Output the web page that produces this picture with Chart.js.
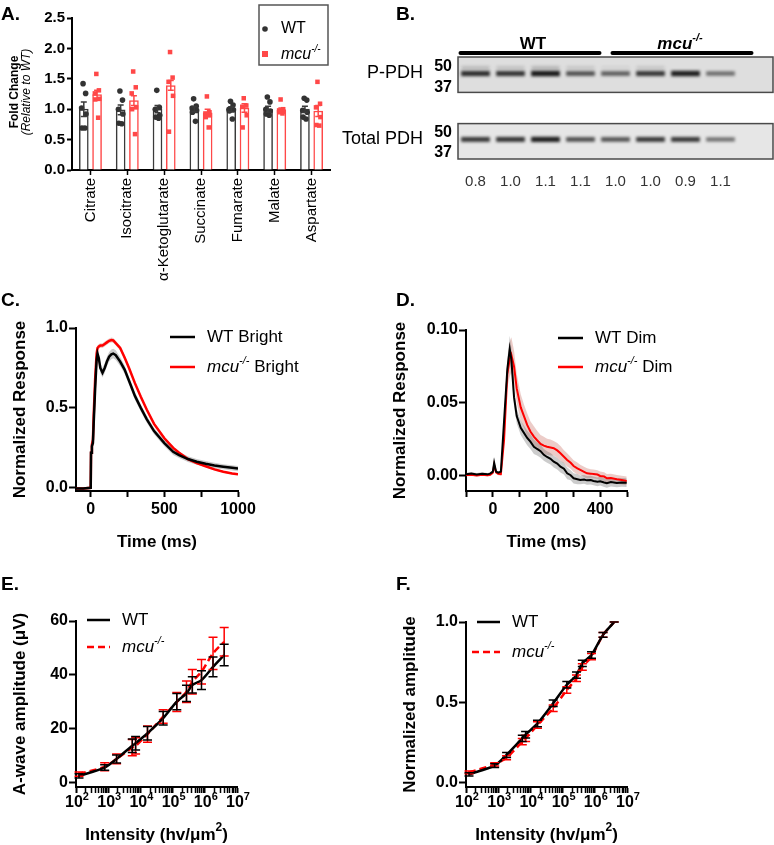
<!DOCTYPE html>
<html>
<head>
<meta charset="utf-8">
<title>mcu metabolites, PDH and ERG</title>
<script src="https://cdn.jsdelivr.net/npm/chart.js@4.4.1/dist/chart.umd.min.js"></script>
<style>
  body { margin: 0; background: #fff; }
  #page { position: relative; width: 774px; height: 845px; overflow: hidden; font-family: "Liberation Sans", Arial, sans-serif; }
  canvas { position: absolute; }
  .tag { position: absolute; font-weight: bold; font-size: 19px; line-height: 19px; }
</style>
</head>
<body>
<div id="page">
  <canvas id="chartA" width="345" height="290" style="left:0;top:0"></canvas>
  <canvas id="blotTop" width="434" height="108" style="left:340px;top:0"></canvas>
  <canvas id="blotBottom" width="434" height="92" style="left:340px;top:108px"></canvas>
  <canvas id="chartC" width="390" height="280" style="left:0;top:280px"></canvas>
  <canvas id="chartD" width="384" height="280" style="left:390px;top:280px"></canvas>
  <canvas id="chartE" width="390" height="285" style="left:0;top:560px"></canvas>
  <canvas id="chartF" width="384" height="285" style="left:390px;top:560px"></canvas>
  <div class="tag" style="left:1px;top:4px">A.</div>
  <div class="tag" style="left:396px;top:4px">B.</div>
  <div class="tag" style="left:1px;top:290px">C.</div>
  <div class="tag" style="left:396px;top:290px">D.</div>
  <div class="tag" style="left:1px;top:574px">E.</div>
  <div class="tag" style="left:396px;top:574px">F.</div>
</div>
<script>
'use strict';
const FONT = '"Liberation Sans", Arial, sans-serif';
Chart.defaults.font.family = FONT;
Chart.defaults.color = '#000';

// ---- A: metabolites ----
let metabolites = ['Citrate', 'Isocitrate', 'α-Ketoglutarate', 'Succinate', 'Fumarate', 'Malate', 'Aspartate'];
let wtMean = [1.00, 0.99, 1.00, 1.00, 1.00, 1.00, 1.00];
let wtSem = [0.12, 0.08, 0.06, 0.04, 0.04, 0.05, 0.05];
let mcuMean = [1.24, 1.14, 1.39, 0.94, 1.02, 0.98, 0.97];
let mcuSem = [0.07, 0.08, 0.08, 0.06, 0.07, 0.04, 0.09];
let wtPoints = [
  [1.42, 1.26, 1.02, 0.92, 0.69, 0.69],
  [1.30, 1.15, 1.00, 0.92, 0.77, 0.76],
  [1.31, 1.03, 1.00, 0.90, 0.87, 0.85],
  [1.17, 1.05, 1.02, 0.98, 0.95, 0.80],
  [1.13, 1.07, 1.00, 0.99, 0.97, 0.84],
  [1.20, 1.12, 1.00, 0.97, 0.92, 0.90],
  [1.18, 1.15, 0.98, 0.95, 0.87, 0.84]
];
let mcuPoints = [
  [1.58, 1.31, 1.26, 1.17, 1.16, 0.86],
  [1.62, 1.36, 1.26, 1.03, 1.00, 0.59],
  [1.94, 1.52, 1.45, 1.22, 0.63],
  [1.21, 0.95, 0.93, 0.90, 0.87, 0.70],
  [1.18, 1.06, 1.04, 0.90, 0.70],
  [1.16, 1.00, 0.98, 0.96, 0.95, 0.93],
  [1.45, 1.09, 1.03, 0.87, 0.74, 0.73]
];
let foldTicks = [0, 0.5, 1.0, 1.5, 2.0, 2.5];

// ---- B: western blot ----
let lanes = ['WT 1', 'WT 2', 'WT 3', 'WT 4', 'mcu 1', 'mcu 2', 'mcu 3', 'mcu 4', ''];
let laneRatios = ['0.8', '1.0', '1.1', '1.1', '1.0', '1.0', '0.9', '1.1'];
let markerKda = [50, 37];
let pPdhKda = 45.7;
let pPdhFaintKda = 49.5;
let totalPdhKda = 45.5;
let pPdhIntensity = [0.85, 0.82, 0.95, 0.68, 0.62, 0.80, 0.92, 0.55];
let pPdhFaint = [0.18, 0.15, 0.20, 0.12, 0.06, 0.12, 0.00, 0.00];
let totalPdhIntensity = [0.80, 0.82, 0.92, 0.70, 0.68, 0.80, 0.80, 0.55];

// ---- C: bright flash ----
let brightTime = [-100, -50, 0, 2, 8, 15, 20, 30, 40, 46, 55, 65, 80, 95, 110, 125, 140, 153, 170, 200, 230, 260, 300, 340, 380, 430, 500, 560, 600, 660, 720, 780, 840, 900, 960, 1000];
let wtBright = [-0.005, -0.005, 0.0, 0.22, 0.26, 0.28, 0.40, 0.62, 0.80, 0.84, 0.81, 0.75, 0.72, 0.75, 0.79, 0.82, 0.835, 0.84, 0.83, 0.79, 0.74, 0.67, 0.575, 0.50, 0.43, 0.355, 0.28, 0.225, 0.205, 0.18, 0.163, 0.15, 0.14, 0.132, 0.125, 0.12];
let wtBrightSem = [0.004, 0.004, 0.004, 0.02, 0.02, 0.02, 0.025, 0.03, 0.03, 0.03, 0.03, 0.03, 0.03, 0.03, 0.03, 0.03, 0.03, 0.03, 0.03, 0.028, 0.027, 0.025, 0.024, 0.022, 0.021, 0.02, 0.02, 0.02, 0.019, 0.018, 0.018, 0.017, 0.017, 0.016, 0.016, 0.016];
let mcuBright = [-0.005, -0.005, 0.0, 0.22, 0.27, 0.30, 0.45, 0.68, 0.84, 0.875, 0.885, 0.89, 0.89, 0.90, 0.91, 0.92, 0.925, 0.922, 0.905, 0.875, 0.815, 0.75, 0.655, 0.57, 0.49, 0.40, 0.31, 0.25, 0.22, 0.18, 0.155, 0.135, 0.115, 0.10, 0.09, 0.085];
let mcuBrightSem = [0.003, 0.003, 0.003, 0.015, 0.015, 0.015, 0.015, 0.015, 0.015, 0.015, 0.015, 0.015, 0.015, 0.015, 0.015, 0.015, 0.015, 0.015, 0.015, 0.014, 0.014, 0.013, 0.013, 0.012, 0.012, 0.011, 0.01, 0.01, 0.009, 0.008, 0.008, 0.007, 0.007, 0.006, 0.006, 0.006];
let brightXTicks = [0, 250, 500, 750, 1000];
let brightYTicks = [0, 0.5, 1.0];

// ---- D: dim flash ----
let dimTime = [-100, -80, -60, -40, -20, -10, 0, 5, 12, 20, 30, 42, 54, 63, 69, 79, 89, 104, 116, 128, 140, 153, 165, 178, 190, 202, 215, 227, 240, 252, 265, 277, 290, 301, 315, 326, 340, 351, 365, 375, 390, 400, 415, 425, 440, 462, 480, 499];
let wtDim = [0.0012, 0.0016, 0.0010, 0.0015, 0.0011, 0.0016, 0.0030, 0.0090, 0.0030, 0.0023, 0.0030, 0.0380, 0.0730, 0.0870, 0.0800, 0.0540, 0.0410, 0.0330, 0.0295, 0.0260, 0.0235, 0.0200, 0.0185, 0.0170, 0.0145, 0.0130, 0.0118, 0.0098, 0.0085, 0.0064, 0.0050, 0.0018, 0.0005, -0.0016, -0.0022, -0.0027, -0.0024, -0.0030, -0.0028, -0.0034, -0.0040, -0.0036, -0.0045, -0.0050, -0.0042, -0.0048, -0.0044, -0.0046];
let wtDimSem = [0.001, 0.001, 0.001, 0.001, 0.001, 0.001, 0.001, 0.0015, 0.001, 0.001, 0.001, 0.004, 0.007, 0.009, 0.008, 0.006, 0.005, 0.005, 0.005, 0.005, 0.005, 0.005, 0.0045, 0.0045, 0.004, 0.004, 0.004, 0.004, 0.004, 0.004, 0.004, 0.004, 0.0035, 0.0035, 0.0035, 0.003, 0.003, 0.003, 0.003, 0.003, 0.003, 0.003, 0.003, 0.003, 0.003, 0.003, 0.003, 0.003];
let mcuDim = [0.0006, 0.0008, 0.0004, 0.0009, 0.0005, 0.0008, 0.0022, 0.0075, 0.0025, 0.0015, 0.0012, 0.0250, 0.0700, 0.0800, 0.0830, 0.0750, 0.0600, 0.0470, 0.0410, 0.0350, 0.0305, 0.0270, 0.0245, 0.0220, 0.0208, 0.0200, 0.0195, 0.0190, 0.0175, 0.0155, 0.0132, 0.0110, 0.0090, 0.0068, 0.0052, 0.0041, 0.0028, 0.0018, 0.0016, 0.0014, 0.0010, 0.0000, -0.0004, -0.0016, -0.0014, -0.0023, -0.0028, -0.0034];
let mcuDimSem = [0.0008, 0.0008, 0.0008, 0.0008, 0.0008, 0.0008, 0.001, 0.0015, 0.001, 0.001, 0.001, 0.004, 0.009, 0.012, 0.012, 0.011, 0.01, 0.009, 0.008, 0.008, 0.007, 0.007, 0.0065, 0.006, 0.006, 0.0055, 0.0055, 0.005, 0.005, 0.005, 0.0045, 0.0045, 0.004, 0.004, 0.004, 0.0035, 0.0035, 0.0035, 0.003, 0.003, 0.003, 0.003, 0.003, 0.003, 0.003, 0.003, 0.003, 0.003];
let dimXTicks = [-100, 0, 100, 200, 300, 400, 500];
let dimYTicks = [0, 0.05, 0.10];

// ---- E / F: intensity response ----
let intensity = [124, 776, 1820, 5600, 7100, 16600, 51000, 135000, 270000, 410000, 790000, 1800000, 4000000];
let aWaveWt = [2.6, 5.7, 8.9, 13.8, 14.7, 18.4, 24.0, 30.1, 33.2, 36.3, 38.1, 43.0, 47.4];
let aWaveWtSem = [0.8, 1.0, 1.5, 2.5, 2.5, 2.5, 2.5, 3.0, 3.0, 3.0, 3.5, 3.7, 4.0];
let aWaveMcu = [3.3, 6.0, 8.9, 13.1, 13.7, 18.1, 24.6, 30.0, 33.8, 37.5, 41.2, 48.0, 52.3];
let aWaveMcuSem = [0.8, 1.5, 1.8, 3.0, 3.0, 3.0, 2.5, 3.5, 4.0, 4.5, 4.5, 6.0, 5.3];
let normWt = [0.054, 0.108, 0.174, 0.277, 0.300, 0.370, 0.495, 0.610, 0.670, 0.743, 0.795, 0.920, 1.000];
let normWtSem = [0.010, 0.012, 0.015, 0.020, 0.020, 0.020, 0.020, 0.020, 0.020, 0.020, 0.020, 0.015, 0.000];
let normMcu = [0.066, 0.116, 0.157, 0.257, 0.277, 0.360, 0.464, 0.578, 0.650, 0.720, 0.785, 0.920, 1.000];
let normMcuSem = [0.008, 0.010, 0.012, 0.020, 0.020, 0.020, 0.020, 0.020, 0.020, 0.020, 0.020, 0.015, 0.000];
let decadeExps = [2, 3, 4, 5, 6, 7];
let aWaveYTicks = [0, 20, 40, 60];
let normYTicks = [0, 0.5, 1.0];

const RED = '#ff0000';

// text with italic / superscript pieces
function drawRich(ctx, parts, x, y, align) {
  ctx.save();
  ctx.textBaseline = 'middle';
  ctx.textAlign = 'left';
  let w = 0;
  parts.forEach(p => { ctx.font = p.font; w += ctx.measureText(p.text).width; });
  let cx = align === 'center' ? x - w / 2 : (align === 'right' ? x - w : x);
  parts.forEach(p => {
    ctx.font = p.font;
    ctx.fillStyle = p.color || '#000';
    ctx.fillText(p.text, cx, y + (p.dy || 0));
    cx += ctx.measureText(p.text).width;
  });
  ctx.restore();
}
function mcuText(size, weight, tail) {
  let w = weight ? weight + ' ' : '';
  let parts = [
    {text: 'mcu', font: `italic ${w}${size}px ${FONT}`},
    {text: '-/-', font: `italic ${w}${Math.round(size * 0.65)}px ${FONT}`, dy: -size * 0.36}
  ];
  if (tail) parts.push({text: tail, font: `${w}${size}px ${FONT}`});
  return parts;
}
function lineKey(ctx, x1, x2, y, color, dash) {
  ctx.save();
  ctx.strokeStyle = color;
  ctx.lineWidth = 2.5;
  ctx.setLineDash(dash || []);
  ctx.beginPath(); ctx.moveTo(x1, y); ctx.lineTo(x2, y); ctx.stroke();
  ctx.restore();
}
function tickList(values) {
  return s => { s.ticks = values.map(v => ({value: v})); };
}
function fixedWidth(w) { return s => { s.width = w; }; }
function fixedHeight(h) { return s => { s.height = h; }; }

function axisBase(font) {
  return {
    border: {color: '#000', width: 2},
    grid: {display: true, drawOnChartArea: false, color: '#000', tickLength: 7, tickWidth: 2},
    ticks: {color: '#000', font: {family: FONT, size: font, weight: 'bold'}, padding: 1, autoSkip: false, maxRotation: 0}
  };
}

// error bars for bar or point elements
const errorBars = {
  id: 'errorBars',
  afterDatasetsDraw(chart) {
    const {ctx, scales} = chart;
    for (let di = chart.data.datasets.length - 1; di >= 0; di--) {
      const ds = chart.data.datasets[di];
      if (!ds.errors) continue;
      const meta = chart.getDatasetMeta(di);
      const y = scales[meta.yAxisID];
      ctx.save();
      ctx.strokeStyle = ds.errorColor || ds.borderColor;
      ctx.lineWidth = 1.5;
      meta.data.forEach((el, i) => {
        const raw = ds.data[i];
        const v = typeof raw === 'object' ? raw.y : raw;
        const top = y.getPixelForValue(v + ds.errors[i]);
        const bot = y.getPixelForValue(v - ds.errors[i]);
        const c = ds.errorCap;
        ctx.beginPath();
        ctx.moveTo(el.x, top); ctx.lineTo(el.x, bot);
        ctx.moveTo(el.x - c, top); ctx.lineTo(el.x + c, top);
        ctx.moveTo(el.x - c, bot); ctx.lineTo(el.x + c, bot);
        ctx.stroke();
      });
      ctx.restore();
    }
  }
};

// ---------------- A ----------------
// bars and dots share a linear x axis laid over the category axis (index -0.5 .. 6.5)
const groupShift = 0.18;
const spread = [-0.02, 0.05, -0.06, 0.06, -0.05, 0.03];
const wtBars = wtMean.map((v, i) => ({x: i - groupShift, y: v}));
const mcuBars = mcuMean.map((v, i) => ({x: i + groupShift, y: v}));
const wtDots = metabolites.flatMap((m, i) => wtPoints[i].map((v, k) => ({x: i - groupShift + spread[k], y: v})));
const mcuDots = metabolites.flatMap((m, i) => mcuPoints[i].map((v, k) => ({x: i + groupShift + spread[k], y: v})));
const aY = axisBase(15);
aY.grid.tickLength = 5;
aY.min = 0; aY.max = 2.5;
aY.afterBuildTicks = tickList(foldTicks);
aY.afterFit = fixedWidth(72);
aY.ticks.callback = v => v.toFixed(1);
aY.ticks.padding = 2;

new Chart(document.getElementById('chartA'), {
  type: 'bar',
  data: {
    labels: metabolites,
    datasets: [
      {type: 'scatter', data: wtDots, xAxisID: 'xs', yAxisID: 'y', pointStyle: 'circle', pointRadius: 2.8, backgroundColor: '#333', borderWidth: 0, order: 1},
      {type: 'scatter', data: mcuDots, xAxisID: 'xs', yAxisID: 'y', pointStyle: 'rect', pointRadius: 3.2, backgroundColor: '#ff4848', borderWidth: 0, order: 1},
      {label: 'WT', data: wtBars, xAxisID: 'xs', yAxisID: 'y', errors: wtSem, errorCap: 3, backgroundColor: '#fff', borderColor: '#3a3a3a', borderWidth: 1.5, barThickness: 9, grouped: false, order: 2},
      {label: 'mcu', data: mcuBars, xAxisID: 'xs', yAxisID: 'y', errors: mcuSem, errorCap: 3, backgroundColor: '#fff', borderColor: '#ff4848', borderWidth: 1.5, barThickness: 9, grouped: false, order: 2}
    ]
  },
  options: {
    responsive: false, animation: false,
    layout: {padding: {left: 0, top: 18, right: 15, bottom: 0}, autoPadding: false},
    plugins: {legend: {display: false}, tooltip: {enabled: false}},
    scales: {
      x: {
        type: 'category',
        offset: true,
        border: {color: '#000', width: 2},
        grid: {display: true, drawOnChartArea: false, offset: false, color: '#000', tickLength: 5, tickWidth: 1.5},
        ticks: {color: '#000', font: {family: FONT, size: 15}, minRotation: 90, maxRotation: 90, padding: 3, autoSkip: false},
        afterFit: fixedHeight(120)
      },
      xs: {type: 'linear', min: -0.5, max: 6.5, offset: false, display: false},
      y: aY
    }
  },
  plugins: [errorBars, {
    id: 'legendA',
    afterDraw(chart) {
      const ctx = chart.ctx;
      ctx.save();
      ctx.strokeStyle = '#555'; ctx.lineWidth = 1.5;
      ctx.strokeRect(259, 5, 69, 60);
      ctx.fillStyle = '#333';
      ctx.beginPath(); ctx.arc(265, 29, 2.8, 0, Math.PI * 2); ctx.fill();
      ctx.fillStyle = '#ff4848';
      ctx.fillRect(262, 51, 6, 6);
      ctx.restore();
      drawRich(ctx, [{text: 'WT', font: `16px ${FONT}`}], 281, 29);
      drawRich(ctx, mcuText(16), 281, 55);
      // two-line y title
      ctx.save();
      ctx.translate(15, 92); ctx.rotate(-Math.PI / 2);
      ctx.textAlign = 'center'; ctx.textBaseline = 'middle'; ctx.fillStyle = '#000';
      ctx.font = `bold 12px ${FONT}`; ctx.fillText('Fold Change', 0, 0);
      ctx.font = `italic 12px ${FONT}`; ctx.fillText('(Relative to WT)', 0, 12);
      ctx.restore();
    }
  }]
});

// ---------------- B ----------------
function blotPlugin(label, header) {
  return {
    id: 'blot',
    beforeDatasetsDraw(chart) {
      const {ctx, chartArea: a} = chart;
      ctx.save();
      ctx.fillStyle = header ? '#dedede' : '#e6e6e6';
      ctx.fillRect(a.left, a.top, a.right - a.left, a.bottom - a.top);
      ctx.filter = 'blur(1.4px)';
    },
    afterDatasetsDraw(chart) {
      const {ctx, chartArea: a, scales} = chart;
      ctx.restore();
      ctx.save();
      ctx.strokeStyle = '#4a4a4a'; ctx.lineWidth = 1.5;
      ctx.strokeRect(a.left, a.top, a.right - a.left, a.bottom - a.top);
      ctx.restore();
      drawRich(ctx, [{text: label.text, font: `18px ${FONT}`}], 83, scales.y.getPixelForValue(label.kda), 'right');
      if (header) {
        const x = scales.x;
        ctx.save();
        ctx.strokeStyle = '#000'; ctx.lineWidth = 4; ctx.lineCap = 'round';
        ctx.beginPath();
        ctx.moveTo(x.getPixelForValue(0) - 15, 53); ctx.lineTo(x.getPixelForValue(3) + 19, 53);
        ctx.moveTo(x.getPixelForValue(4) - 3, 53); ctx.lineTo(x.getPixelForValue(7) + 31, 53);
        ctx.stroke();
        ctx.restore();
        drawRich(ctx, [{text: 'WT', font: `bold 17px ${FONT}`}], (x.getPixelForValue(1) + x.getPixelForValue(2)) / 2 + 5, 44, 'center');
        drawRich(ctx, mcuText(17, 'bold'), (x.getPixelForValue(5) + x.getPixelForValue(6)) / 2 + 12, 44, 'center');
      }
    }
  };
}
function bandData(kda, strength) {
  return strength.map(a => [kda - 0.9 - 0.9 * a, kda + 0.9 + 0.9 * a]);
}
function bandColors(strength) {
  return strength.map(a => `rgba(12,12,12,${a})`);
}
function blotY(min, max) {
  return {
    min: min, max: max,
    afterBuildTicks: tickList(markerKda),
    afterFit: fixedWidth(118),
    border: {display: false},
    grid: {display: false, drawTicks: false},
    ticks: {color: '#000', font: {family: FONT, size: 16, weight: 'bold'}, padding: 6}
  };
}

new Chart(document.getElementById('blotTop'), {
  type: 'bar',
  data: {
    labels: lanes,
    datasets: [
      {data: bandData(pPdhKda, pPdhIntensity), backgroundColor: bandColors(pPdhIntensity), borderWidth: 0, barPercentage: 0.82, categoryPercentage: 1, grouped: false},
      {data: bandData(pPdhFaintKda, pPdhFaint.map(v => v * 0.3)), backgroundColor: bandColors(pPdhFaint), borderWidth: 0, barPercentage: 0.8, categoryPercentage: 1, grouped: false}
    ]
  },
  options: {
    responsive: false, animation: false,
    layout: {padding: {left: 0, top: 57, right: 1, bottom: 4}, autoPadding: false},
    plugins: {legend: {display: false}, tooltip: {enabled: false}},
    scales: {x: {display: false}, y: blotY(33.6, 56.3)}
  },
  plugins: [blotPlugin({text: 'P-PDH', kda: pPdhKda}, true)]
});

new Chart(document.getElementById('blotBottom'), {
  type: 'bar',
  data: {
    labels: lanes,
    datasets: [
      {data: bandData(totalPdhKda, totalPdhIntensity), backgroundColor: bandColors(totalPdhIntensity), borderWidth: 0, barPercentage: 0.82, categoryPercentage: 1, grouped: false}
    ]
  },
  options: {
    responsive: false, animation: false,
    layout: {padding: {left: 0, top: 4, right: 1, bottom: 0}, autoPadding: false},
    plugins: {legend: {display: false}, tooltip: {enabled: false}},
    scales: {
      x: {
        border: {display: false},
        grid: {display: false, drawTicks: false},
        ticks: {color: '#333', font: {family: FONT, size: 15}, padding: 14, autoSkip: false, maxRotation: 0,
          callback: (v, i) => laneRatios[i] || ''},
        afterFit: fixedHeight(41)
      },
      y: blotY(32.5, 56)
    }
  },
  plugins: [blotPlugin({text: 'Total PDH', kda: totalPdhKda}, false)]
});

// ---------------- C / D ----------------
function traceSets(times, mean, sem, line, band, width) {
  return {
    line: {data: times.map((t, i) => ({x: t, y: mean[i]})), borderColor: line, borderWidth: width, pointRadius: 0, fill: false, tension: 0},
    upper: {data: times.map((t, i) => ({x: t, y: mean[i] + sem[i]})), borderWidth: 0, pointRadius: 0, fill: '+1', backgroundColor: band, tension: 0},
    lower: {data: times.map((t, i) => ({x: t, y: mean[i] - sem[i]})), borderWidth: 0, pointRadius: 0, fill: false, tension: 0}
  };
}
function traceChart(id, o) {
  const wt = traceSets(o.time, o.wt, o.wtSem, '#000', 'rgba(110,110,110,0.35)', o.lw);
  const mcu = traceSets(o.time, o.mcu, o.mcuSem, RED, 'rgba(205,120,110,0.38)', o.lw);
  const x = axisBase(16);
  Object.assign(x, {type: 'linear', min: o.xMin, max: o.xMax, afterBuildTicks: tickList(o.xTicks), afterFit: fixedHeight(o.xh)});
  x.grid.tickLength = 6;
  x.ticks.padding = 3;
  x.ticks.callback = v => (o.xLabels.includes(v) ? String(v) : '');
  x.title = {display: true, text: 'Time (ms)', font: {family: FONT, size: 17, weight: 'bold'}, padding: {top: 0, bottom: 7}};
  const y = axisBase(16);
  Object.assign(y, {min: o.yMin, max: o.yMax, afterBuildTicks: tickList(o.yTicks), afterFit: fixedWidth(76)});
  y.ticks.callback = v => v.toFixed(o.dec);
  y.title = {display: true, text: 'Normalized Response', font: {family: FONT, size: 17, weight: 'bold'}, padding: {top: o.titlePad, bottom: 0}};
  new Chart(document.getElementById(id), {
    type: 'line',
    data: {datasets: [wt.line, mcu.line, wt.upper, wt.lower, mcu.upper, mcu.lower]},
    options: {
      responsive: false, animation: false,
      layout: {padding: {left: 0, top: o.top, right: o.right, bottom: 0}, autoPadding: false},
      plugins: {legend: {display: false}, tooltip: {enabled: false}},
      scales: {x: x, y: y}
    },
    plugins: [{
      id: 'traceLegend',
      afterDraw(chart) {
        const ctx = chart.ctx;
        lineKey(ctx, o.key[0], o.key[1], o.key[2], '#000');
        lineKey(ctx, o.key[0], o.key[1], o.key[3], RED);
        drawRich(ctx, [{text: 'WT ' + o.word, font: `17px ${FONT}`}], o.key[4], o.key[2]);
        drawRich(ctx, mcuText(17, '', ' ' + o.word), o.key[4], o.key[3]);
      }
    }]
  });
}

traceChart('chartC', {
  time: brightTime, wt: wtBright, wtSem: wtBrightSem, mcu: mcuBright, mcuSem: mcuBrightSem,
  xMin: -100, xMax: 1000, xTicks: brightXTicks, xLabels: [0, 500, 1000],
  yMin: -0.02, yMax: 1.0, yTicks: brightYTicks, dec: 1,
  top: 48, right: 152, xh: 69, lw: 2.5, titlePad: 10, word: 'Bright',
  key: [170, 195, 57, 87, 207]
});
traceChart('chartD', {
  time: dimTime, wt: wtDim, wtSem: wtDimSem, mcu: mcuDim, mcuSem: mcuDimSem,
  xMin: -100, xMax: 500, xTicks: dimXTicks, xLabels: [0, 200, 400],
  yMin: -0.0103, yMax: 0.10, yTicks: dimYTicks, dec: 2,
  top: 50, right: 147, xh: 69, lw: 2, titlePad: 0, word: 'Dim',
  key: [168, 193, 58, 87, 205]
});

// ---------------- E / F ----------------
const logTicks = [];
decadeExps.forEach(e => {
  for (let m = 1; m <= 9; m++) {
    if (e === 7 && m > 1) break;
    logTicks.push({value: m * Math.pow(10, e), major: m === 1});
  }
});
function intensityChart(id, o) {
  const x = axisBase(16);
  Object.assign(x, {type: 'logarithmic', min: 100, max: 1e7, afterFit: fixedHeight(58)});
  x.afterBuildTicks = s => { s.ticks = logTicks.map(t => ({value: t.value, major: t.major})); };
  x.ticks.display = false;
  x.grid.tickLength = 6;
  x.grid.tickWidth = c => (c.tick && c.tick.major ? 2 : 1.5);
  const y = axisBase(16);
  Object.assign(y, {min: o.yMin, max: o.yMax, afterBuildTicks: tickList(o.yTicks), afterFit: fixedWidth(76)});
  y.ticks.callback = v => v.toFixed(o.dec);
  y.title = {display: true, text: o.yTitle, font: {family: FONT, size: 17, weight: 'bold'}, padding: {top: 10, bottom: 0}};
  new Chart(document.getElementById(id), {
    type: 'line',
    data: {
      datasets: [
        {data: intensity.map((v, i) => ({x: v, y: o.wt[i]})), errors: o.wtSem, errorCap: 4.5, borderColor: '#000', borderWidth: 2.5, pointRadius: 0, tension: 0.25},
        {data: intensity.map((v, i) => ({x: v, y: o.mcu[i]})), errors: o.mcuSem, errorCap: 4.5, borderColor: RED, borderWidth: 2.5, borderDash: [7, 4], pointRadius: 0, tension: 0.25}
      ]
    },
    options: {
      responsive: false, animation: false,
      layout: {padding: {left: 0, top: o.top, right: o.right, bottom: 0}, autoPadding: false},
      plugins: {legend: {display: false}, tooltip: {enabled: false}},
      scales: {x: x, y: y}
    },
    plugins: [errorBars, {
      id: 'intensityDecor',
      afterDraw(chart) {
        const {ctx, chartArea: a, scales} = chart;
        decadeExps.forEach(e => {
          drawRich(ctx, [
            {text: '10', font: `bold 16px ${FONT}`},
            {text: String(e), font: `bold 11px ${FONT}`, dy: -6}
          ], scales.x.getPixelForValue(Math.pow(10, e)) + 1, a.bottom + 16, 'center');
        });
        drawRich(ctx, [
          {text: 'Intensity (hv/μm', font: `bold 17px ${FONT}`},
          {text: '2', font: `bold 12px ${FONT}`, dy: -7},
          {text: ')', font: `bold 17px ${FONT}`}
        ], (a.left + a.right) / 2, 275, 'center');
        lineKey(ctx, o.key[0], 110, o.key[2], '#000');
        lineKey(ctx, o.key[1], 110, o.key[3], RED, [7, 4]);
        drawRich(ctx, [{text: 'WT', font: `17px ${FONT}`}], 122, o.key[2]);
        drawRich(ctx, mcuText(17), 122, o.key[3]);
      }
    }]
  });
}

intensityChart('chartE', {
  wt: aWaveWt, wtSem: aWaveWtSem, mcu: aWaveMcu, mcuSem: aWaveMcuSem,
  yMin: -1.5, yMax: 60, yTicks: aWaveYTicks, dec: 0, yTitle: 'A-wave amplitude (μV)',
  top: 61, right: 153, key: [87, 87, 60, 87]
});
intensityChart('chartF', {
  wt: normWt, wtSem: normWtSem, mcu: normMcu, mcuSem: normMcuSem,
  yMin: -0.025, yMax: 1.0, yTicks: normYTicks, dec: 1, yTitle: 'Normalized amplitude',
  top: 62, right: 147, key: [87, 82, 62, 92]
});
</script>
</body>
</html>
